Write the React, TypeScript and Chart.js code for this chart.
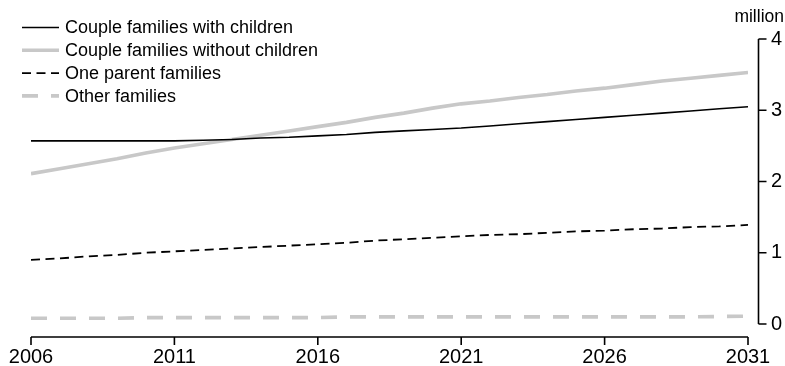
import React, { useEffect, useRef } from "react";
import { Chart, registerables } from "chart.js";

Chart.register(...registerables);

const years = [
  2006, 2007, 2008, 2009, 2010, 2011, 2012, 2013, 2014, 2015, 2016, 2017, 2018,
  2019, 2020, 2021, 2022, 2023, 2024, 2025, 2026, 2027, 2028, 2029, 2030, 2031,
];

const coupleWithChildren = [
  2.57, 2.57, 2.57, 2.57, 2.57, 2.57, 2.58, 2.59, 2.61, 2.62, 2.64, 2.66, 2.69,
  2.71, 2.73, 2.75, 2.78, 2.81, 2.84, 2.87, 2.9, 2.93, 2.96, 2.99, 3.02, 3.05,
];

const coupleWithoutChildren = [
  2.11, 2.18, 2.25, 2.32, 2.4, 2.47, 2.53, 2.59, 2.65, 2.71, 2.77, 2.83, 2.9,
  2.96, 3.03, 3.09, 3.13, 3.18, 3.22, 3.27, 3.31, 3.36, 3.41, 3.45, 3.49, 3.53,
];

const oneParent = [
  0.9, 0.92, 0.95, 0.97, 1.0, 1.02, 1.04, 1.06, 1.08, 1.1, 1.12, 1.14, 1.17,
  1.19, 1.21, 1.23, 1.25, 1.26, 1.28, 1.3, 1.31, 1.33, 1.34, 1.36, 1.37, 1.39,
];

const otherFamilies = [
  0.08, 0.08, 0.08, 0.08, 0.09, 0.09, 0.09, 0.09, 0.09, 0.09, 0.09, 0.1, 0.1,
  0.1, 0.1, 0.1, 0.1, 0.1, 0.1, 0.1, 0.1, 0.1, 0.1, 0.1, 0.105, 0.11,
];

const seriesLabels = [
  "Couple families with children",
  "Couple families without children",
  "One parent families",
  "Other families",
];

const xTicks = [2006, 2011, 2016, 2021, 2026, 2031];
const yTicks = [0, 1, 2, 3, 4];
const unitLabel = "million";

const FONT = "'Liberation Sans', Arial, sans-serif";
const GREY = "#c8c8c8";

const toPoints = (vals: number[]) => years.map((x, i) => ({ x, y: vals[i] }));

const spinesPlugin = {
  id: "spines",
  afterDraw(chart: any) {
    const ctx = chart.ctx;
    const xs = chart.scales.x;
    const ys = chart.scales.y;
    const area = chart.chartArea;
    ctx.save();
    ctx.strokeStyle = "#000";
    ctx.lineWidth = 1.6;
    const xAxisY = area.bottom + 13;
    const x0 = xs.getPixelForValue(xTicks[0]);
    const x1 = xs.getPixelForValue(xTicks[xTicks.length - 1]);
    ctx.beginPath();
    ctx.moveTo(x0, xAxisY);
    ctx.lineTo(x1, xAxisY);
    xTicks.forEach((t) => {
      const px = xs.getPixelForValue(t);
      ctx.moveTo(px, xAxisY);
      ctx.lineTo(px, xAxisY + 8);
    });
    ctx.stroke();
    const yAxisX = area.right + 10.5;
    const y0 = ys.getPixelForValue(yTicks[0]);
    const y1 = ys.getPixelForValue(yTicks[yTicks.length - 1]);
    ctx.beginPath();
    ctx.moveTo(yAxisX, y0);
    ctx.lineTo(yAxisX, y1);
    yTicks.forEach((t) => {
      const py = ys.getPixelForValue(t);
      ctx.moveTo(yAxisX, py);
      ctx.lineTo(yAxisX + 8, py);
    });
    ctx.stroke();
    ctx.fillStyle = "#000";
    ctx.font = `17.5px ${FONT}`;
    ctx.textAlign = "right";
    ctx.textBaseline = "alphabetic";
    ctx.fillText(unitLabel, 784, 22);
    ctx.restore();
  },
};

const legendPlugin = {
  id: "customLegend",
  afterDraw(chart: any) {
    const ctx = chart.ctx;
    ctx.save();
    chart.data.datasets.forEach((ds: any, i: number) => {
      const y = 27.5 + i * 22.8;
      ctx.beginPath();
      ctx.strokeStyle = ds.borderColor;
      ctx.lineWidth = ds.borderWidth;
      ctx.setLineDash(ds.borderDash || []);
      ctx.moveTo(22, y);
      ctx.lineTo(59, y);
      ctx.stroke();
      ctx.setLineDash([]);
      ctx.fillStyle = "#000";
      ctx.font = `18px ${FONT}`;
      ctx.textAlign = "left";
      ctx.textBaseline = "middle";
      ctx.fillText(ds.label, 65, y + 1);
    });
    ctx.restore();
  },
};

export default function App() {
  const ref = useRef<HTMLCanvasElement | null>(null);

  useEffect(() => {
    document.body.style.margin = "0";
    if (!ref.current) return;
    const chart = new Chart(ref.current, {
      type: "line",
      data: {
        datasets: [
          {
            label: seriesLabels[0],
            data: toPoints(coupleWithChildren),
            borderColor: "#000",
            borderWidth: 1.6,
            pointRadius: 0,
            tension: 0,
          },
          {
            label: seriesLabels[1],
            data: toPoints(coupleWithoutChildren),
            borderColor: GREY,
            borderWidth: 3.6,
            pointRadius: 0,
            tension: 0,
          },
          {
            label: seriesLabels[2],
            data: toPoints(oneParent),
            borderColor: "#000",
            borderWidth: 1.8,
            borderDash: [9, 5.5],
            pointRadius: 0,
            tension: 0,
          },
          {
            label: seriesLabels[3],
            data: toPoints(otherFamilies),
            borderColor: GREY,
            borderWidth: 3.6,
            borderDash: [16, 13],
            pointRadius: 0,
            tension: 0,
          },
        ] as any,
      },
      options: {
        animation: false,
        responsive: false,
        maintainAspectRatio: false,
        layout: { padding: { left: 31, top: 39, right: 0, bottom: 0 } },
        plugins: {
          legend: { display: false },
          tooltip: { enabled: false },
        },
        scales: {
          x: {
            type: "linear",
            min: 2006,
            max: 2031,
            afterFit: (s: any) => {
              s.height = 42;
            },
            afterBuildTicks: (s: any) => {
              s.ticks = xTicks.map((v) => ({ value: v }));
            },
            border: { display: false },
            grid: {
              display: true,
              drawOnChartArea: false,
              drawTicks: true,
              tickLength: 21,
              color: "rgba(0,0,0,0)",
            },
            ticks: {
              color: "#000",
              padding: 0,
              maxRotation: 0,
              font: { family: FONT, size: 20 },
              callback: (v: any) => String(v),
            },
          },
          y: {
            position: "right",
            min: 0,
            max: 4,
            afterFit: (s: any) => {
              s.width = 37;
            },
            afterBuildTicks: (s: any) => {
              s.ticks = yTicks.map((v) => ({ value: v }));
            },
            border: { display: false },
            grid: {
              display: true,
              drawOnChartArea: false,
              drawTicks: true,
              tickLength: 21,
              color: "rgba(0,0,0,0)",
            },
            ticks: {
              color: "#000",
              padding: 2,
              font: { family: FONT, size: 20 },
              callback: (v: any) => String(v),
            },
          },
        },
      } as any,
      plugins: [spinesPlugin, legendPlugin],
    });
    return () => chart.destroy();
  }, []);

  return (
    <div style={{ width: 785, height: 366 }}>
      <canvas ref={ref} width={785} height={366} style={{ display: "block" }} />
    </div>
  );
}
